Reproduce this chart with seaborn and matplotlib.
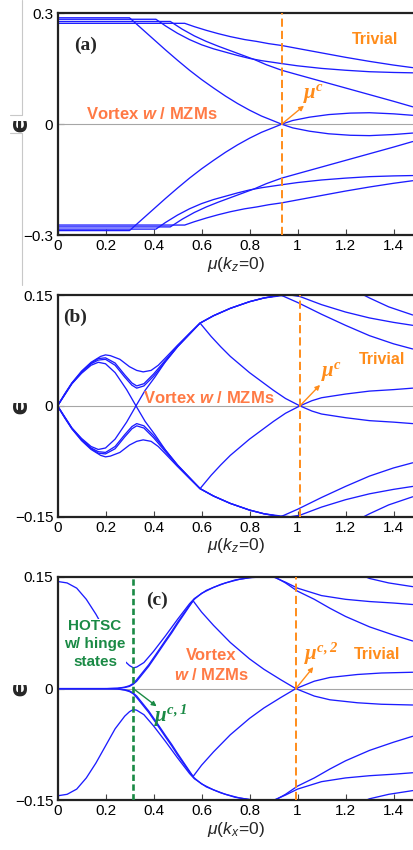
import numpy as np
import pandas as pd
import matplotlib
matplotlib.use("Agg")
import matplotlib.pyplot as plt
import seaborn as sns
from matplotlib.lines import Line2D

# ---- DATA ----
# panel (a): positive-energy branches, mirrored to -eps when plotted
a_mu_1 = [0, 0.30, 0.35, 0.40, 0.45, 0.50, 0.55, 0.60, 0.65, 0.70, 0.75, 0.80, 0.85, 0.90, 0.934, 0.98, 1.05, 1.13, 1.22, 1.30, 1.40, 1.48]
a_eps_1 = [0.288, 0.288, 0.259, 0.230, 0.201, 0.173, 0.146, 0.121, 0.098, 0.076, 0.056, 0.038, 0.022, 0.009, 0.0, -0.010, -0.019, -0.026, -0.030, -0.031, -0.028, -0.024]
a_mu_2 = [0, 0.41, 0.45, 0.50, 0.55, 0.60, 0.65, 0.70, 0.75, 0.80, 0.85, 0.934, 1.00, 1.10, 1.20, 1.30, 1.40, 1.48]
a_eps_2 = [0.284, 0.284, 0.266, 0.246, 0.229, 0.215, 0.204, 0.195, 0.186, 0.178, 0.172, 0.164, 0.158, 0.151, 0.146, 0.142, 0.140, 0.139]
a_mu_3 = [0, 0.47, 0.52, 0.57, 0.62, 0.67, 0.72, 0.77, 0.82, 0.87, 0.934, 1.00, 1.10, 1.20, 1.30, 1.40, 1.48]
a_eps_3 = [0.278, 0.278, 0.257, 0.239, 0.224, 0.211, 0.199, 0.187, 0.175, 0.161, 0.146, 0.134, 0.116, 0.098, 0.080, 0.062, 0.047]
a_mu_4 = [0, 0.53, 0.57, 0.62, 0.67, 0.72, 0.78, 0.83, 0.88, 0.934, 1.00, 1.10, 1.20, 1.30, 1.40, 1.48]
a_eps_4 = [0.273, 0.273, 0.264, 0.254, 0.245, 0.237, 0.229, 0.224, 0.218, 0.213, 0.205, 0.193, 0.181, 0.170, 0.160, 0.153]

# panel (b)
b_mu_1 = [0, 0.03, 0.06, 0.10, 0.14, 0.18, 0.20, 0.22, 0.26, 0.30, 0.33, 0.357, 0.39, 0.42, 0.45, 0.50, 0.55, 0.594, 0.65, 0.72, 0.80, 0.86, 0.93, 1.00, 1.10, 1.20, 1.30, 1.40, 1.48]
b_eps_1 = [0, 0.016, 0.031, 0.047, 0.059, 0.067, 0.069, 0.068, 0.063, 0.053, 0.048, 0.046, 0.048, 0.055, 0.065, 0.082, 0.098, 0.112, 0.122, 0.132, 0.141, 0.146, 0.150, 0.140, 0.124, 0.109, 0.095, 0.084, 0.077]
b_mu_2 = [0, 0.03, 0.06, 0.10, 0.14, 0.17, 0.20, 0.24, 0.28, 0.31, 0.33, 0.36, 0.40, 0.45, 0.50, 0.55, 0.594, 0.64, 0.68, 0.72, 0.76, 0.80, 0.85, 0.90, 0.95, 1.01, 1.06, 1.10, 1.20, 1.30, 1.40, 1.48]
b_eps_2 = [0, 0.016, 0.031, 0.046, 0.058, 0.064, 0.065, 0.058, 0.042, 0.031, 0.027, 0.030, 0.043, 0.062, 0.081, 0.098, 0.112, 0.094, 0.080, 0.067, 0.056, 0.045, 0.033, 0.021, 0.010, 0.0, -0.007, -0.011, -0.016, -0.020, -0.022, -0.024]
b_mu_3 = [0, 0.03, 0.06, 0.10, 0.14, 0.17, 0.20, 0.24, 0.28, 0.31, 0.33, 0.36, 0.40, 0.45, 0.50, 0.55, 0.594, 0.65, 0.72, 0.80, 0.86, 0.93, 0.97, 1.01, 1.10, 1.20, 1.30, 1.40, 1.48]
b_eps_3 = [0, 0.015, 0.030, 0.045, 0.057, 0.062, 0.063, 0.055, 0.039, 0.028, 0.024, 0.027, 0.040, 0.060, 0.080, 0.097, 0.112, 0.122, 0.132, 0.141, 0.146, 0.149, 0.150, 0.148, 0.137, 0.127, 0.119, 0.113, 0.109]
b_mu_4 = [0, 0.03, 0.06, 0.10, 0.14, 0.17, 0.20, 0.24, 0.288, 0.327, 0.365, 0.406, 0.45, 0.50, 0.55, 0.594, 0.65, 0.72, 0.80, 0.86, 0.93]
b_eps_4 = [0, 0.015, 0.030, 0.044, 0.055, 0.059, 0.057, 0.045, 0.022, 0.0, -0.021, -0.039, -0.060, -0.080, -0.097, -0.112, -0.122, -0.132, -0.141, -0.146, -0.150]
b_mu_5 = [1.24, 1.30, 1.38, 1.48]
b_eps_5 = [0.156, 0.146, 0.134, 0.123]

# panel (c)
c_mu_1 = [0, 0.04, 0.08, 0.12, 0.16, 0.20, 0.24, 0.28, 0.30, 0.316, 0.33, 0.36, 0.40, 0.45, 0.50, 0.55, 0.57, 0.62, 0.68, 0.74, 0.80, 0.85, 0.90, 0.95, 1.00, 1.10, 1.20, 1.30, 1.40, 1.48]
c_eps_1 = [0.144, 0.142, 0.135, 0.120, 0.100, 0.077, 0.054, 0.037, 0.031, 0.028, 0.029, 0.035, 0.050, 0.071, 0.093, 0.114, 0.121, 0.132, 0.140, 0.146, 0.149, 0.150, 0.150, 0.143, 0.135, 0.125, 0.120, 0.117, 0.115, 0.113]
c_mu_2 = [0, 0.20, 0.25, 0.28, 0.30, 0.316, 0.33, 0.35, 0.365, 0.38, 0.41, 0.45, 0.476, 0.50, 0.55, 0.57, 0.60, 0.65, 0.70, 0.76, 0.82, 0.90, 0.95, 1.00, 1.07, 1.135, 1.20, 1.30, 1.40, 1.48]
c_eps_2 = [0, 0, 0.0005, 0.002, 0.004, 0.007, 0.012, 0.020, 0.026, 0.032, 0.046, 0.065, 0.077, 0.089, 0.112, 0.120, 0.128, 0.136, 0.142, 0.147, 0.150, 0.151, 0.142, 0.131, 0.120, 0.108, 0.097, 0.083, 0.072, 0.064]
c_mu_3 = [0, 0.20, 0.25, 0.28, 0.30, 0.316, 0.33, 0.35, 0.365, 0.38, 0.41, 0.45, 0.476, 0.50, 0.565, 0.60, 0.65, 0.72, 0.80, 0.86, 0.93, 0.993, 1.07, 1.135, 1.25, 1.35, 1.48]
c_eps_3 = [0, 0, 0.0004, 0.0015, 0.003, 0.006, 0.010, 0.018, 0.024, 0.030, 0.044, 0.063, 0.075, 0.087, 0.118, 0.103, 0.085, 0.062, 0.040, 0.026, 0.012, 0.0, -0.010, -0.015, -0.019, -0.021, -0.022]
c_mu_4 = [1.24, 1.30, 1.38, 1.48]
c_eps_4 = [0.156, 0.148, 0.142, 0.137]

# transition points
mu_crit = [0.934, 1.01, 0.993]   # orange dashed lines (a), (b), (c)
mu_crit1 = 0.316                 # green dashed line (c)
y_limits = [0.3, 0.15, 0.15]
y_ticklabels = [["\u22120.3", "0", "0.3"], ["\u22120.15", "0", "0.15"], ["\u22120.15", "0", "0.15"]]
x_ticks = [0, 0.2, 0.4, 0.6, 0.8, 1.0, 1.2, 1.4]
x_ticklabels = ["0", "0.2", "0.4", "0.6", "0.8", "1", "1.2", "1.4"]
x_labels = [r"$\mu(k_z\!=\!0)$", r"$\mu(k_z\!=\!0)$", r"$\mu(k_x\!=\!0)$"]
panel_tags = ["(a)", "(b)", "(c)"]


def build_frame(curves):
    parts = []
    for k, (mu, eps) in enumerate(curves):
        for sign in (1, -1):
            parts.append(pd.DataFrame({"mu": mu, "eps": sign * np.asarray(eps), "curve": f"{k}_{sign}"}))
    return pd.concat(parts, ignore_index=True)


frames = [
    build_frame([(a_mu_1, a_eps_1), (a_mu_2, a_eps_2), (a_mu_3, a_eps_3), (a_mu_4, a_eps_4)]),
    build_frame([(b_mu_1, b_eps_1), (b_mu_2, b_eps_2), (b_mu_3, b_eps_3), (b_mu_4, b_eps_4), (b_mu_5, b_eps_5)]),
    build_frame([(c_mu_1, c_eps_1), (c_mu_2, c_eps_2), (c_mu_3, c_eps_3), (c_mu_4, c_eps_4)]),
]

# ---- STYLE ----
sns.set_theme(style="white")
plt.rcParams["font.family"] = ["Liberation Sans", "DejaVu Sans"]
plt.rcParams["mathtext.fontset"] = "custom"
plt.rcParams["mathtext.rm"] = "Liberation Sans"
plt.rcParams["mathtext.it"] = "Liberation Sans:italic"
plt.rcParams["mathtext.bf"] = "Liberation Sans:bold"
plt.rcParams["mathtext.sf"] = "Liberation Sans:italic:bold"      # the italic bold "w"
plt.rcParams["mathtext.bfit"] = "Liberation Serif:italic:bold"   # the bold serif mu labels

BLUE = "#1c1cff"
ORANGE = "#ff8c1a"
CORAL = "#ff7a45"
GREEN = "#1a8a45"

fig = plt.figure(figsize=(4.14, 8.5), dpi=100)
positions = [(0.1389, 0.7235, 0.8611, 0.2608),
             (0.1389, 0.3921, 0.8611, 0.2608),
             (0.1389, 0.0585, 0.8611, 0.2627)]
axes = [fig.add_axes(p) for p in positions]

for i, ax in enumerate(axes):
    lim = y_limits[i]
    ax.axhline(0, color="#a6a6a6", lw=0.8, zorder=1)
    sns.lineplot(data=frames[i], x="mu", y="eps", units="curve", estimator=None,
                 sort=False, color=BLUE, lw=0.95, ax=ax, legend=False, zorder=2)
    ax.axvline(mu_crit[i], color=ORANGE, lw=1.4, ls=(0, (4.2, 2.1)), zorder=5)
    ax.set_xlim(0, 1.4854)
    ax.set_ylim(-lim, lim)
    ax.set_xticks(x_ticks)
    ax.set_xticklabels(x_ticklabels)
    ax.set_yticks([-lim, 0, lim])
    ax.set_yticklabels(y_ticklabels[i])
    ax.tick_params(axis="both", direction="in", length=4, width=0.8, color="#444444",
                   labelsize=11, pad=3, colors="black")
    ax.tick_params(axis="both", which="both", bottom=True, left=True, top=False, right=False)
    ax.set_xlabel(x_labels[i], fontsize=12.5, labelpad=1)
    ax.set_ylabel("\u03f5", fontsize=17, fontweight="bold", rotation=90,
                  family=["DejaVu Sans"])
    ax.yaxis.set_label_coords(-0.072, 0.5)
    for side in ("left", "top", "bottom"):
        ax.spines[side].set_color("#222222")
        ax.spines[side].set_linewidth(1.6)
    ax.spines["right"].set_visible(False)
    ax.grid(False)

tag_pos = [(0.08, 0.857), (0.049, 0.898), (0.28, 0.896)]
for ax, tag, (tx, ty) in zip(axes, panel_tags, tag_pos):
    ax.text(tx, ty, tag, transform=ax.transAxes, fontsize=14, fontweight="bold",
            family=["Liberation Serif", "DejaVu Serif"], ha="center", va="center", zorder=6)

arrow_orange = dict(arrowstyle="-|>", color=ORANGE, lw=1.0, mutation_scale=7, shrinkA=0, shrinkB=0)
arrow_green = dict(arrowstyle="-|>", color=GREEN, lw=1.0, mutation_scale=7, shrinkA=0, shrinkB=0)
vortex_one_line = r"Vortex $\mathsf{w}$ / MZMs"

# (a)
ax = axes[0]
ax.text(0.3925, 0.027, vortex_one_line, color=CORAL, fontsize=12, fontweight="bold",
        ha="center", va="center", zorder=6)
ax.text(1.323, 0.23, "Trivial", color=ORANGE, fontsize=11.5, fontweight="bold", ha="center", va="center")
ax.annotate("", xy=(1.027, 0.050), xytext=(mu_crit[0], 0), arrowprops=arrow_orange, zorder=6)
ax.text(1.066, 0.081, r"$\mathbfit{\mu}^{\mathbfit{c}}$", color=ORANGE, fontsize=15,
        ha="center", va="center")

# (b)
ax = axes[1]
ax.text(0.631, 0.0104, vortex_one_line, color=CORAL, fontsize=12, fontweight="bold",
        ha="center", va="center", zorder=6)
ax.text(1.351, 0.0626, "Trivial", color=ORANGE, fontsize=11.5, fontweight="bold", ha="center", va="center")
ax.annotate("", xy=(1.094, 0.0284), xytext=(mu_crit[1], 0), arrowprops=arrow_orange, zorder=6)
ax.text(1.142, 0.046, r"$\mathbfit{\mu}^{\mathbfit{c}}$", color=ORANGE, fontsize=15,
        ha="center", va="center")

# (c)
ax = axes[2]
ax.axvline(mu_crit1, color=GREEN, lw=1.9, ls=(0, (2.4, 1.3)), zorder=5)
ax.text(0.156, 0.0595, "HOTSC\nw/ hinge\nstates", color=GREEN, fontsize=11, fontweight="bold",
        ha="center", va="center", linespacing=1.35, zorder=4,
        bbox=dict(facecolor="white", edgecolor="none", pad=0.5))
ax.text(0.64, 0.031, "Vortex\n" + r"$\mathsf{w}$ / MZMs", color=CORAL, fontsize=12, fontweight="bold",
        ha="center", va="center", linespacing=1.3, zorder=6)
ax.text(1.333, 0.046, "Trivial", color=ORANGE, fontsize=11.5, fontweight="bold", ha="center", va="center")
ax.annotate("", xy=(1.066, 0.029), xytext=(mu_crit[2], 0), arrowprops=arrow_orange, zorder=6)
ax.text(1.10, 0.047, r"$\mathbfit{\mu}^{\mathbfit{c,2}}$", color=ORANGE, fontsize=15,
        ha="center", va="center")
ax.annotate("", xy=(0.413, -0.0238), xytext=(mu_crit1, 0), arrowprops=arrow_green, zorder=6)
ax.text(0.472, -0.0356, r"$\mathbfit{\mu}^{\mathbfit{c,1}}$", color=GREEN, fontsize=15,
        ha="center", va="center")

# faint bracket lines at the left edge of the top panel
for xs, ys in [((0.053, 0.053), (1.0, 0.8647)), ((0.024, 0.053), (0.8647, 0.8647)),
               ((0.024, 0.053), (0.8435, 0.8435)), ((0.053, 0.053), (0.8435, 0.665))]:
    fig.add_artist(Line2D(xs, ys, transform=fig.transFigure, color="#c8c8c8", lw=0.8))

fig.savefig("out.png", dpi=100)
